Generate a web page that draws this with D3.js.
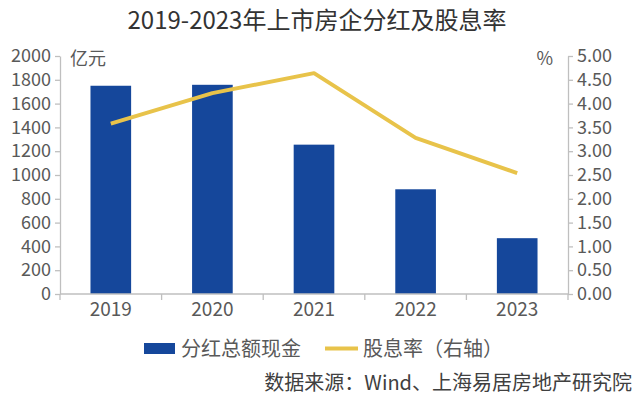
<!DOCTYPE html>
<html>
<head>
<meta charset="utf-8">
<script src="https://cdn.jsdelivr.net/npm/d3@7"></script>
<style>
  body { margin: 0; background: #fff; }
  svg text { font-family: "Noto Sans CJK SC", "Noto Sans", sans-serif; }
</style>
</head>
<body>
<div id="chart"></div>
<script>
// Data
const years = ['2019', '2020', '2021', '2022', '2023'];
const dividends = [1750, 1758, 1255, 880, 469];     // 亿元
const yieldRate = [3.58, 4.22, 4.64, 3.28, 2.54];   // %
const leftTicks = [0, 200, 400, 600, 800, 1000, 1200, 1400, 1600, 1800, 2000];
const rightTicks = [0, 0.5, 1, 1.5, 2, 2.5, 3, 3.5, 4, 4.5, 5];

const width = 635, height = 396;
const margin = { top: 56, right: 67, bottom: 102, left: 60 };
const innerW = width - margin.left - margin.right;
const innerH = height - margin.top - margin.bottom;

const barColor = '#15479b';
const lineColor = '#e8c34a';
const axisColor = '#bfbfbf';
const textColor = '#595959';

const svg = d3.select('#chart')
    .append('svg')
    .attr('width', width)
    .attr('height', height);

// Title
svg.append('text')
    .attr('x', 317)
    .attr('y', 29)
    .attr('text-anchor', 'middle')
    .attr('font-size', 24)
    .attr('fill', '#333')
    .text('2019-2023年上市房企分红及股息率');

const g = svg.append('g')
    .attr('transform', `translate(${margin.left},${margin.top})`);

// Scales
const x = d3.scaleBand()
    .domain(years)
    .range([0, innerW])
    .paddingInner(0.6)
    .paddingOuter(0.3);

const xEdge = d3.scaleLinear()
    .domain([0, years.length])
    .range([0, innerW]);

const yL = d3.scaleLinear().domain([0, 2000]).range([innerH, 0]);
const yR = d3.scaleLinear().domain([0, 5]).range([innerH, 0]);

// Bars
g.selectAll('.bar')
    .data(years)
    .enter()
    .append('rect')
    .attr('class', 'bar')
    .attr('x', d => x(d))
    .attr('width', x.bandwidth())
    .attr('y', (d, i) => yL(dividends[i]))
    .attr('height', (d, i) => innerH - yL(dividends[i]))
    .attr('fill', barColor);

// Line
const line = d3.line()
    .x((d, i) => x(years[i]) + x.bandwidth() / 2)
    .y(d => yR(d));

g.append('path')
    .datum(yieldRate)
    .attr('d', line)
    .attr('fill', 'none')
    .attr('stroke', lineColor)
    .attr('stroke-width', 4)
    .attr('stroke-linejoin', 'round');

// Axes
function styleAxis(sel) {
    sel.selectAll('path, line').attr('stroke', axisColor).attr('stroke-width', 1.3);
    sel.selectAll('text')
        .attr('fill', textColor)
        .attr('font-size', 18)
        .attr('font-family', '"Noto Sans CJK SC", "Noto Sans", sans-serif');
}

g.append('g')
    .call(d3.axisLeft(yL).tickValues(leftTicks).tickSize(5).tickSizeOuter(0).tickPadding(4).tickFormat(d3.format('d')))
    .call(styleAxis);

g.append('g')
    .attr('transform', `translate(${innerW},0)`)
    .call(d3.axisRight(yR).tickValues(rightTicks).tickSize(5).tickSizeOuter(0).tickPadding(4).tickFormat(d3.format('.2f')))
    .call(styleAxis);

// Bottom axis with ticks on the category edges
const bottom = g.append('g')
    .attr('transform', `translate(0,${innerH})`)
    .call(d3.axisBottom(x).tickSize(0).tickPadding(8))
    .call(styleAxis);
bottom.selectAll('text').attr('font-size', 19);
bottom.select('.domain').attr('d', `M0,0H${innerW}`);
bottom.selectAll('.edge')
    .data(d3.range(years.length + 1))
    .enter()
    .append('line')
    .attr('class', 'edge')
    .attr('x1', d => xEdge(d))
    .attr('x2', d => xEdge(d))
    .attr('y1', 0)
    .attr('y2', 6)
    .attr('stroke', axisColor)
    .attr('stroke-width', 1.3);

// Unit labels
svg.append('text')
    .attr('x', 70).attr('y', 65)
    .attr('font-size', 18).attr('fill', textColor)
    .text('亿元');
svg.append('text')
    .attr('x', 553).attr('y', 65)
    .attr('text-anchor', 'end')
    .attr('font-size', 18).attr('fill', textColor)
    .text('%');

// Legend
const legend = svg.append('g');
legend.append('rect')
    .attr('x', 144).attr('y', 343)
    .attr('width', 31).attr('height', 11)
    .attr('fill', barColor);
legend.append('text')
    .attr('x', 181).attr('y', 356)
    .attr('font-size', 20).attr('fill', textColor)
    .text('分红总额现金');
legend.append('line')
    .attr('x1', 325).attr('x2', 358)
    .attr('y1', 348.5).attr('y2', 348.5)
    .attr('stroke', lineColor).attr('stroke-width', 4);
legend.append('text')
    .attr('x', 363).attr('y', 356)
    .attr('font-size', 20).attr('fill', textColor)
    .text('股息率（右轴）');

// Source
svg.append('text')
    .attr('x', 632).attr('y', 390)
    .attr('text-anchor', 'end')
    .attr('font-size', 20).attr('fill', '#404040')
    .attr('font-family', '"Noto Serif CJK SC", "Noto Sans CJK SC", serif')
    .text('数据来源：Wind、上海易居房地产研究院');
</script>
</body>
</html>
